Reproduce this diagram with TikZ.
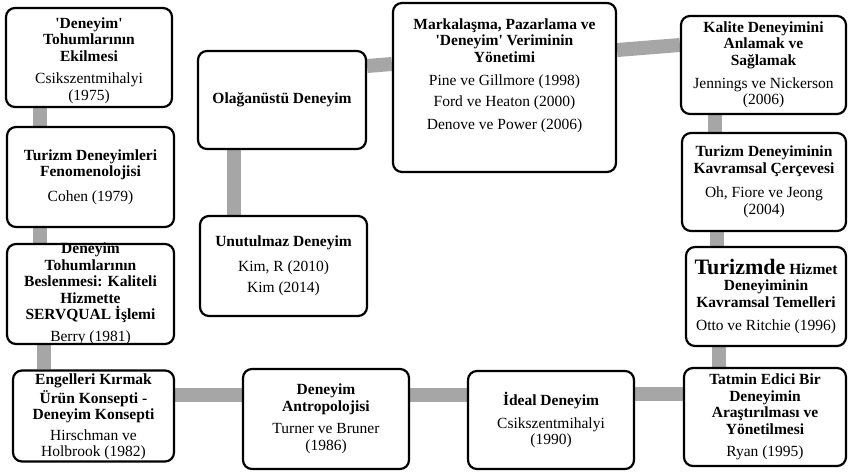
\documentclass[tikz,border=0pt]{standalone}
\usepackage{fontspec}
\setmainfont{Liberation Serif}[Ligatures=TeXOff]
\usetikzlibrary{backgrounds,calc}

\tikzset{
  box/.style={draw=black, line width=2.2pt, rounded corners=9pt, fill=white, inner sep=0pt},
  txt/.style={align=center, inner sep=0pt, font=\fontsize{15.5}{16.5}\selectfont},
  bar/.style={draw=black!35, line width=14pt},
}

\begin{document}
\begin{tikzpicture}[x=1pt,y=-1pt]
\useasboundingbox (0,0) rectangle (848,475);

% Draw boxes.
\node[box, minimum width=166pt, minimum height=99pt] (seed) at (89,57.5) {};
\node[box, minimum width=167pt, minimum height=100pt] (phen) at (90.5,177) {};
\node[box, minimum width=167pt, minimum height=100pt] (besl) at (90.5,294) {};
\node[box, minimum width=161pt, minimum height=91pt] (engel) at (93.5,416) {};
\node[box, minimum width=166pt, minimum height=100pt] (anthro) at (326,419) {};
\node[box, minimum width=166pt, minimum height=98pt] (ideal) at (551,420) {};
\node[box, minimum width=162pt, minimum height=98pt] (tatmin) at (765,417) {};
\node[box, minimum width=160pt, minimum height=99pt] (hizmet) at (766,296.5) {};
\node[box, minimum width=164pt, minimum height=98pt] (cerceve) at (764,182) {};
\node[box, minimum width=165pt, minimum height=98pt] (kalite) at (763.5,65) {};
\node[box, minimum width=223pt, minimum height=169pt] (marka) at (504.5,87.5) {};
\node[box, minimum width=168pt, minimum height=98pt] (olag) at (282,100) {};
\node[box, minimum width=167pt, minimum height=100pt] (unut) at (283.5,266) {};

% Draw connectors.
\begin{scope}[on background layer]
\draw[bar] ([xshift=-49pt]seed.south) -- ([xshift=-50.5pt]phen.north);
\draw[bar] ([xshift=-50.5pt]phen.south) -- ([xshift=-50.5pt]besl.north);
\draw[bar] ([xshift=-46.5pt]besl.south) -- ([xshift=-49.5pt]engel.north);
\draw[bar] ([yshift=21pt]engel.east) -- ([yshift=24pt]anthro.west);
\draw[bar] ([yshift=24pt]anthro.east) -- ([yshift=25pt]ideal.west);
\draw[bar] ([yshift=26pt]ideal.east) -- ([yshift=23pt]tatmin.west);
\draw[bar] ([xshift=-46pt]tatmin.north) -- ([xshift=-47pt]hizmet.south);
\draw[bar] ([xshift=-49pt]hizmet.north) -- ([xshift=-47pt]cerceve.south);
\draw[bar] ([xshift=-49pt]cerceve.north) -- ([xshift=-48.5pt]kalite.south);
\draw[bar] ([yshift=20pt]kalite.west) -- ([yshift=37.5pt]marka.east);
\draw[bar] ([yshift=23.5pt]marka.west) -- ([yshift=34pt]olag.east);
\draw[bar] ([xshift=-48pt]olag.south) -- ([xshift=-49.5pt]unut.north);
\end{scope}

% Box texts.
\node[txt, yshift=-3pt] (seedtxt) at (seed) {\textbf{'Deneyim'}\\ \textbf{Tohumlarının}\\ \textbf{Ekilmesi}\\[6pt]
  Csikszentmihalyi\\ (1975)};
\node[txt] (phentxt) at (phen) {\textbf{Turizm Deneyimleri}\\ \textbf{Fenomenolojisi}\\[8pt] Cohen (1979)};
\node[txt] (besltxt) at (besl) {\textbf{Deneyim}\\ \textbf{Tohumlarının}\\ \textbf{Beslenmesi: Kaliteli}\\
  \textbf{Hizmette}\\ \textbf{SERVQUAL İşlemi}\\[5.5pt] Berry (1981)};
\node[txt, yshift=-1pt] (engeltxt) at (engel) {\textbf{Engelleri Kırmak}\\[2.5pt] \textbf{Ürün Konsepti -}\\
  \textbf{Deneyim Konsepti}\\[4pt] Hirschman ve\\ Holbrook (1982)};
\node[txt] (anthrotxt) at (anthro) {\textbf{Deneyim}\\ \textbf{Antropolojisi}\\[6pt] Turner ve Bruner\\ (1986)};
\node[txt] (idealtxt) at (ideal) {\textbf{İdeal Deneyim}\\[6pt] Csikszentmihalyi\\ (1990)};
\node[txt] (tatmintxt) at (tatmin) {\textbf{Tatmin Edici Bir}\\ \textbf{Deneyimin}\\ \textbf{Araştırılması ve}\\
  \textbf{Yönetilmesi}\\[5.5pt] Ryan (1995)};
\node[txt] (hizmettxt) at (hizmet) {\textbf{{\fontsize{22}{22}\selectfont Turizmde} Hizmet}\\ \textbf{Deneyiminin}\\
  \textbf{Kavramsal Temelleri}\\[6.5pt] Otto ve Ritchie (1996)};
\node[txt] (cercevetxt) at (cerceve) {\textbf{Turizm Deneyiminin}\\ \textbf{Kavramsal Çerçevesi}\\[8pt]
  Oh, Fiore ve Jeong\\ (2004)};
\node[txt] (kalitetxt) at (kalite) {\textbf{Kalite Deneyimini}\\ \textbf{Anlamak ve}\\ \textbf{Sağlamak}\\[6.5pt]
  Jennings ve Nickerson\\ (2006)};
\node[txt, yshift=12pt] (markatxt) at (marka) {\textbf{Markalaşma, Pazarlama ve}\\ \textbf{'Deneyim' Veriminin}\\
  \textbf{Yönetimi}\\[6.5pt] Pine ve Gillmore (1998)\\[5pt] Ford ve Heaton (2000)\\[6pt] Denove ve Power (2006)};
\node[txt] (olagtxt) at (olag) {\textbf{Olağanüstü Deneyim}};
\node[txt] (unuttxt) at (unut) {\textbf{Unutulmaz Deneyim}\\[8pt] Kim, R (2010)\\[5pt] Kim (2014)};
\end{tikzpicture}
\end{document}
